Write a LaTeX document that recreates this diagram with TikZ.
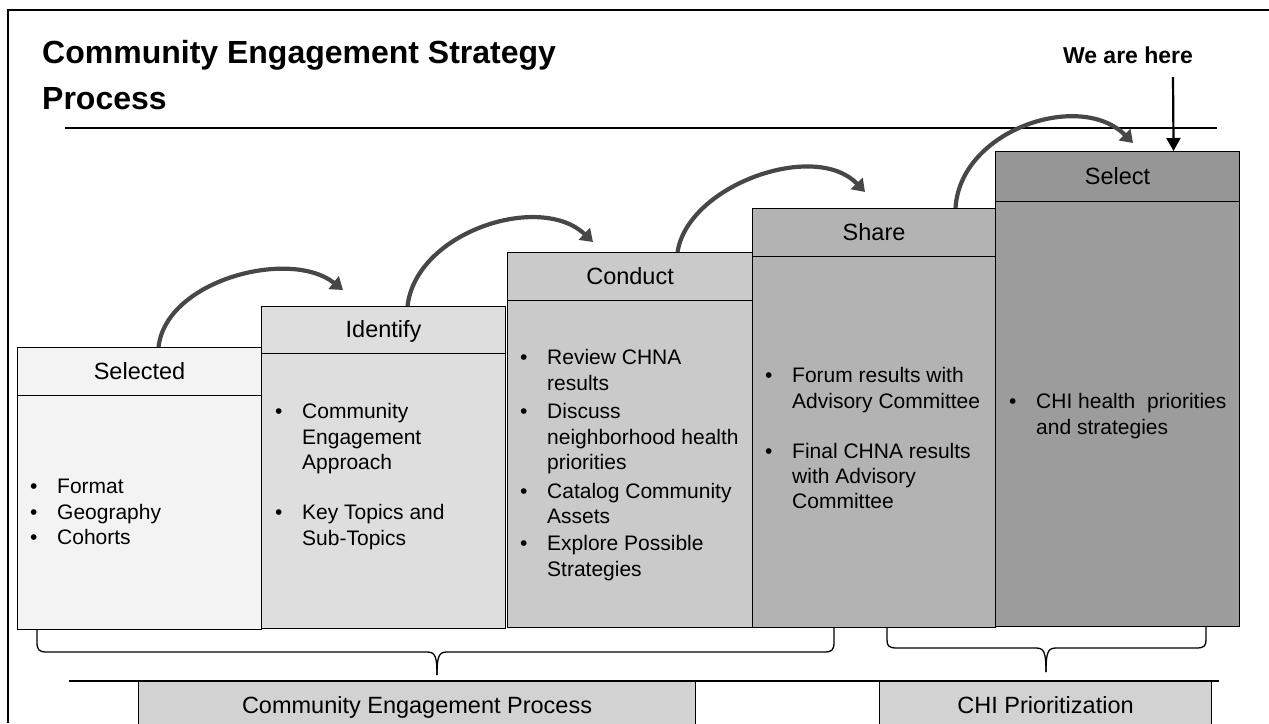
\documentclass[tikz,border=0pt]{standalone}
\usepackage{fontspec}
\setmainfont{Liberation Sans}
\usetikzlibrary{arrows.meta}
\definecolor{gA}{HTML}{F3F3F3}
\definecolor{gB}{HTML}{DEDEDE}
\definecolor{gC}{HTML}{CACACA}
\definecolor{gD}{HTML}{B3B3B3}
\definecolor{gE}{HTML}{9C9C9C}
\definecolor{gEh}{HTML}{969696}
\definecolor{gBot}{HTML}{D2D2D2}
\definecolor{arr}{HTML}{474747}
\newcommand\bul{\makebox[27pt][l]{\textbullet}}
\newcommand\ind{\hspace*{27pt}}
\begin{document}
\begin{tikzpicture}[x=1pt,y=-1pt,
  box/.style={draw=black,line width=1.1pt,inner sep=0pt,anchor=north west},
  hdr/.style={box,font=\fontsize{23.5}{28}\selectfont,text height=17pt,text depth=2pt},
  bodytext/.style={anchor=north west,inner sep=0pt,align=left,font=\fontsize{21}{25.3}\selectfont},
  flow/.style={draw=arr,line width=4.2pt,-{Triangle[length=12pt,width=16pt]}},
  brace/.style={draw=black,line width=1.3pt},
  bottombox/.style={box,fill=gBot,font=\fontsize{23.5}{28}\selectfont,text height=17pt,text depth=2pt}
]
\useasboundingbox (0,0) rectangle (1269,723);
\fill[white] (0,0) rectangle (1269,723);
% frame
\draw[line width=1.6pt] (8,723) -- (8,10) -- (1269,10);
% title
\node[anchor=base west,inner sep=0pt,font=\fontsize{32}{38}\selectfont\bfseries] (title1) at (42,63) {Community Engagement Strategy};
\node[anchor=base west,inner sep=0pt,font=\fontsize{32}{38}\selectfont\bfseries] (title2) at (42,109) {Process};
\draw[line width=1.2pt] (65,128) -- (1217,128);
\node[anchor=base,inner sep=0pt,font=\fontsize{23}{28}\selectfont\bfseries] (we) at (1128,63) {We are here};

% step boxes
\node[box,fill=gA,minimum width=244pt,minimum height=234pt] (selb) at (17,395) {};
\node[hdr,fill=gA,minimum width=244pt,minimum height=48pt] (selh) at (17,347) {Selected};
\node[box,fill=gB,minimum width=244pt,minimum height=275pt] (idb) at (261,353) {};
\node[hdr,fill=gB,minimum width=244pt,minimum height=47pt] (idh) at (261,306) {Identify};
\node[box,fill=gC,minimum width=245pt,minimum height=327pt] (condb) at (507,300) {};
\node[hdr,fill=gC,minimum width=245pt,minimum height=48pt] (condh) at (507,252) {Conduct};
\node[box,fill=gD,minimum width=243pt,minimum height=371pt] (shb) at (752,256) {};
\node[hdr,fill=gD,minimum width=243pt,minimum height=48pt] (shh) at (752,208) {Share};
\node[box,fill=gE,minimum width=244pt,minimum height=425pt] (slb) at (995,201) {};
\node[hdr,fill=gEh,minimum width=244pt,minimum height=50pt] (slh) at (995,151) {Select};

% body texts
\node[bodytext] (selt) at (30,475.8) {\strut\bul Format\\\bul Geography\\\bul Cohorts};
\node[bodytext] (idt) at (275,400.8) {\strut\bul Community\\\ind Engagement\\\ind Approach\\[25.3pt]\bul Key Topics and\\\ind Sub-Topics};
\node[bodytext] (condt) at (520,346.8) {\strut\bul Review CHNA\\\ind results\\[3.5pt]\bul Discuss\\\ind neighborhood health\\\ind priorities\\[3.5pt]\bul Catalog Community\\\ind Assets\\[2pt]\bul Explore Possible\\\ind Strategies};
\node[bodytext] (sht) at (765,364.8) {\strut\bul Forum results with\\\ind Advisory Committee\\[25pt]\bul Final CHNA results\\\ind with Advisory\\\ind Committee};
\node[bodytext] (slt) at (1009,390.8) {\strut\bul CHI health\ \ priorities\\\ind and strategies};

% curved flow arrows
\draw[flow] ([xshift=19pt]selh.north) .. controls (166,280) and (290,248) .. ([xshift=82pt,yshift=16pt]idh.north west);
\draw[flow] ([xshift=24pt]idh.north) .. controls (416,232) and (540,192) .. ([xshift=86pt,yshift=10pt]condh.north west);
\draw[flow] ([xshift=47.5pt]condh.north) .. controls (688,185) and (815,140) .. ([xshift=113pt,yshift=16pt]shh.north west);
\draw[flow] ([xshift=81.5pt]shh.north) .. controls (960,130) and (1080,90) .. ([xshift=138pt,yshift=8pt]slh.north west);

% we are here arrow
\coordinate (weStart) at (1173,77);
\draw[line width=2.2pt,-{Triangle[length=13pt,width=14pt]}] (weStart) -- ([xshift=56pt]slh.north);

% braces
\draw[brace] (37,629) -- (37,642) .. controls (37,650) and (39,652) .. (47,652) -- (427,652) .. controls (435,652) and (437,656) .. (437,675);
\draw[brace] (834,628) -- (834,642) .. controls (834,650) and (832,652) .. (824,652) -- (447,652) .. controls (439,652) and (437,656) .. (437,675);
\draw[brace] (887,628) -- (887,640) .. controls (887,646) and (889,648) .. (897,648) -- (1036,648) .. controls (1044,648) and (1046,652) .. (1046,672);
\draw[brace] (1206,627) -- (1206,640) .. controls (1206,646) and (1204,648) .. (1196,648) -- (1056,648) .. controls (1048,648) and (1046,652) .. (1046,672);

% bottom rule and labels
\draw[line width=1.5pt] (69,681) -- (1219,681);
\node[bottombox,minimum width=557pt,minimum height=48pt] (cep) at (138,681) {Community Engagement Process};
\node[bottombox,minimum width=332pt,minimum height=48pt] (chi) at (879,681) {CHI Prioritization};
\end{tikzpicture}
\end{document}
